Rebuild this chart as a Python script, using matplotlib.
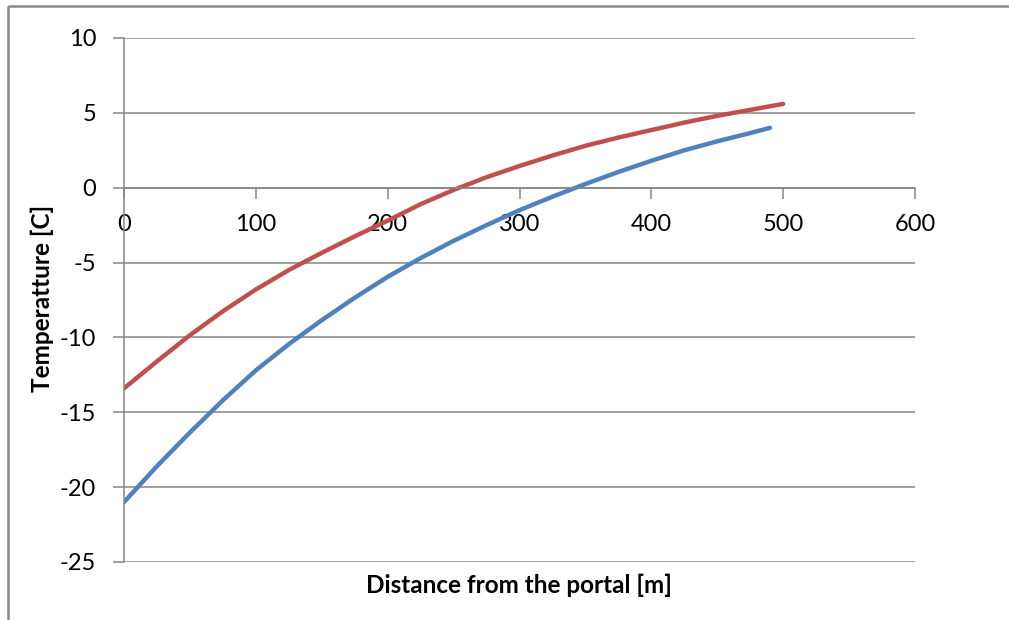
import matplotlib.pyplot as plt
from matplotlib.lines import Line2D

# Values.
red_x = [0, 25, 50, 75, 100, 125, 150, 175, 200, 225, 250, 275, 300, 325,
         350, 375, 400, 425, 450, 475, 500]
red_t = [-13.4, -11.6, -9.85, -8.25, -6.8, -5.5, -4.35, -3.25, -2.2, -1.1,
         -0.15, 0.7, 1.45, 2.15, 2.8, 3.35, 3.85, 4.35, 4.8, 5.2, 5.6]

blue_x = [0, 25, 50, 75, 100, 125, 150, 175, 200, 225, 250, 275, 300, 325,
          350, 375, 400, 425, 450, 475, 490]
blue_t = [-21.0, -18.6, -16.35, -14.2, -12.2, -10.45, -8.85, -7.35, -5.95,
          -4.7, -3.55, -2.5, -1.5, -0.6, 0.25, 1.05, 1.8, 2.5, 3.1, 3.65, 4.0]

x_ticks = [0, 100, 200, 300, 400, 500, 600]
y_ticks = [10, 5, 0, -5, -10, -15, -20, -25]

grid_col = '#868686'

plt.rcParams['font.family'] = ['Lato', 'DejaVu Sans']
plt.rcParams['axes.unicode_minus'] = False

fig = plt.figure(figsize=(10.09, 6.2), dpi=100)
ax = fig.add_axes([124 / 1009, 1 - 562 / 620, (915 - 124) / 1009, (562 - 38) / 620])

ax.plot(blue_x, blue_t, color='#4F81BD', linewidth=3.2, solid_capstyle='round',
        solid_joinstyle='round')
ax.plot(red_x, red_t, color='#C0504D', linewidth=3.2, solid_capstyle='round',
        solid_joinstyle='round')

ax.set_xlim(0, 600)
ax.set_ylim(-25, 10)
ax.set_xticks(x_ticks)
ax.set_yticks(y_ticks)

# Horizontal grid only, Excel-like.
ax.yaxis.grid(True, color=grid_col, linewidth=1.1)
ax.set_axisbelow(True)

# x axis crosses at y = 0
ax.spines['bottom'].set_position(('data', 0))
for side in ['top', 'right']:
    ax.spines[side].set_visible(False)
for side in ['bottom', 'left']:
    ax.spines[side].set_color(grid_col)
    ax.spines[side].set_linewidth(1.1)

ax.tick_params(axis='x', direction='out', length=8, width=1.1, color=grid_col,
               labelsize=17, pad=11, labelcolor='#000000')
ax.tick_params(axis='y', direction='out', length=8, width=1.1, color=grid_col,
               labelsize=17, pad=12, labelcolor='#000000')

fig.text(519 / 1009, 1 - 585 / 620, 'Distance from the portal [m]', ha='center',
         va='center', fontsize=17.5, fontweight='bold')
fig.text(42 / 1009, 1 - 298 / 620, 'Temperatture [C]', ha='center', va='center',
         rotation=90, fontsize=17.5, fontweight='bold')

# Chart area border (only left and top visible in the crop)
fig.add_artist(Line2D([8 / 1009, 8 / 1009], [0, 1 - 6 / 620], color='#888888',
                      linewidth=1.8, transform=fig.transFigure,
                      solid_capstyle='butt'))
fig.add_artist(Line2D([8 / 1009, 1], [1 - 6 / 620, 1 - 6 / 620], color='#888888',
                      linewidth=1.8, transform=fig.transFigure,
                      solid_capstyle='butt'))

fig.savefig('out.png', dpi=100)
